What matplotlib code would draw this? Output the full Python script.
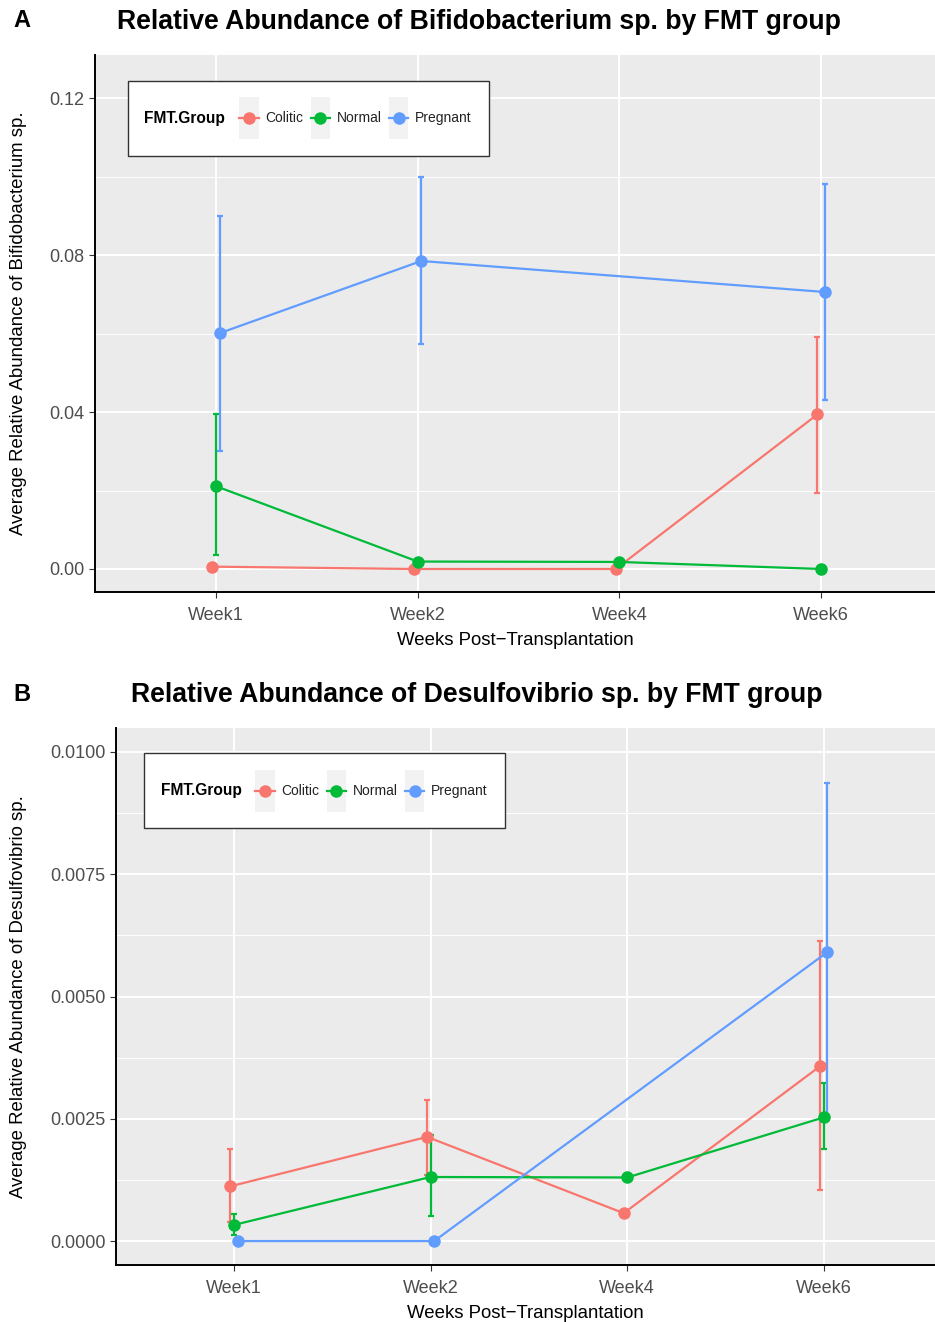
import numpy as np
import matplotlib
matplotlib.use("Agg")
import matplotlib.pyplot as plt
from matplotlib.lines import Line2D
from matplotlib.patches import Rectangle
from matplotlib.offsetbox import AnchoredOffsetbox, HPacker, TextArea, DrawingArea
from matplotlib.ticker import FormatStrFormatter, MultipleLocator

plt.rcParams['font.family'] = ['Liberation Sans', 'DejaVu Sans']

weeks = ['Week1', 'Week2', 'Week4', 'Week6']
groups = ['Colitic', 'Normal', 'Pregnant']
colors = ['#F8766D', '#00BA38', '#619CFF']

# panel A: Bifidobacterium sp. (nan = no sample that week)
bifido_mean = {
    'Colitic':  [0.0006, 0.0000, 0.0000, 0.0394],
    'Normal':   [0.0211, 0.0019, 0.0018, 0.0000],
    'Pregnant': [0.0601, 0.0785, np.nan, 0.0706],
}
bifido_lo = {
    'Colitic':  [np.nan, np.nan, np.nan, 0.0194],
    'Normal':   [0.0036, np.nan, np.nan, np.nan],
    'Pregnant': [0.0300, 0.0573, np.nan, 0.0431],
}
bifido_hi = {
    'Colitic':  [np.nan, np.nan, np.nan, 0.0592],
    'Normal':   [0.0395, np.nan, np.nan, np.nan],
    'Pregnant': [0.0899, 0.0999, np.nan, 0.0981],
}

# panel B: Desulfovibrio sp.
desulfo_mean = {
    'Colitic':  [0.00112, 0.00213, 0.00057, 0.00358],
    'Normal':   [0.00033, 0.00131, 0.00130, 0.00253],
    'Pregnant': [0.00000, 0.00000, np.nan, 0.00591],
}
desulfo_lo = {
    'Colitic':  [0.00039, 0.00135, np.nan, 0.00104],
    'Normal':   [0.00012, 0.00051, np.nan, 0.00188],
    'Pregnant': [np.nan, np.nan, np.nan, 0.00247],
}
desulfo_hi = {
    'Colitic':  [0.00188, 0.00288, np.nan, 0.00613],
    'Normal':   [0.00055, 0.00217, np.nan, 0.00323],
    'Pregnant': [np.nan, np.nan, np.nan, 0.00936],
}


def legend_box(ax, anchor):
    # ggplot-like horizontal legend: bold title then grey key + label per group
    items = [TextArea('FMT.Group', textprops=dict(fontweight='bold', fontsize=11.2)),
             DrawingArea(0, 1)]
    for g, c in zip(groups, colors):
        da = DrawingArea(14, 30)
        da.add_artist(Rectangle((0, 0), 14, 30, facecolor='#F2F2F2', edgecolor='none'))
        da.add_artist(Line2D([0, 14], [15, 15], color=c, lw=1.6))
        da.add_artist(Line2D([7], [15], marker='o', ms=8, color=c))
        items.append(da)
        items.append(TextArea(g, textprops=dict(fontsize=10, color='#222222')))
    box = HPacker(children=items, align='center', pad=0, sep=5)
    ab = AnchoredOffsetbox(loc='upper left', child=box, pad=1.2, borderpad=0,
                           bbox_to_anchor=anchor, bbox_transform=ax.transAxes,
                           frameon=True)
    ab.patch.set_edgecolor('#333333')
    ab.patch.set_linewidth(1.0)
    ab.patch.set_boxstyle('square', pad=0)
    ab.set_zorder(5)
    ax.add_artist(ab)


def panel(ax, mean, lo, hi, ylim, major, fmt, ylabel, ylab_x, anchor):
    ax.set_facecolor('#EBEBEB')
    x = np.arange(len(weeks))
    offsets = [-0.018, 0.0, 0.018]
    for g, c, off in zip(groups, colors, offsets):
        m = np.array(mean[g], dtype=float)
        l = np.array(lo[g], dtype=float)
        h = np.array(hi[g], dtype=float)
        ok = ~np.isnan(m)
        xs = x + off
        ax.plot(xs[ok], m[ok], color=c, lw=1.6, zorder=3)
        ax.plot(xs[ok], m[ok], 'o', color=c, ms=8, zorder=4)
        e = ~np.isnan(l)
        ax.errorbar(xs[e], m[e], yerr=[m[e] - l[e], h[e] - m[e]], fmt='none',
                    ecolor=c, elinewidth=1.6, capsize=2.2, capthick=1.6, zorder=3)
    ax.set_xticks(x)
    ax.set_xticklabels(weeks)
    ax.set_xlim(-0.6, 3.565)
    ax.set_ylim(*ylim)
    ax.yaxis.set_major_locator(MultipleLocator(major))
    ax.yaxis.set_minor_locator(MultipleLocator(major / 2))
    ax.yaxis.set_major_formatter(FormatStrFormatter(fmt))
    ax.grid(which='major', color='white', lw=1.4)
    ax.grid(which='minor', axis='y', color='white', lw=0.7)
    ax.set_axisbelow(True)
    for s in ['top', 'right']:
        ax.spines[s].set_visible(False)
    for s in ['left', 'bottom']:
        ax.spines[s].set_linewidth(1.4)
    ax.tick_params(which='major', colors='#333333', labelsize=13, length=4, width=0.8)
    ax.tick_params(which='minor', length=0)
    ax.tick_params(axis='both', labelcolor='#4D4D4D')
    ax.tick_params(axis='x', pad=6.5)
    ax.set_xlabel('Weeks Post\u2212Transplantation', fontsize=13.4, labelpad=6)
    ax.set_ylabel(ylabel, fontsize=13.4)
    ax.yaxis.set_label_coords(ylab_x, 0.5)
    legend_box(ax, anchor)


fig = plt.figure(figsize=(9.35, 13.22), dpi=100)
axA = fig.add_axes([0.1016, 0.5522, 0.8984, 0.4062])
axB = fig.add_axes([0.1241, 0.0431, 0.8759, 0.4062])

panel(axA, bifido_mean, bifido_lo, bifido_hi, (-0.00586, 0.131), 0.04, '%.2f',
      'Average Relative Abundance of Bifidobacterium sp.', -0.081, (0.039, 0.952))
panel(axB, desulfo_mean, desulfo_lo, desulfo_hi, (-0.00049, 0.01049), 0.0025, '%.4f',
      'Average Relative Abundance of Desulfovibrio sp.', -0.1087, (0.034, 0.953))

fig.text(0.512, 0.9833, 'Relative Abundance of Bifidobacterium sp. by FMT group',
         ha='center', va='center', fontsize=19.2, fontweight='bold')
fig.text(0.5096, 0.4745, 'Relative Abundance of Desulfovibrio sp. by FMT group',
         ha='center', va='center', fontsize=19.2, fontweight='bold')
fig.text(0.0235, 0.9845, 'A', ha='center', va='center', fontsize=17, fontweight='bold')
fig.text(0.0235, 0.4743, 'B', ha='center', va='center', fontsize=17, fontweight='bold')

fig.savefig('out.png', dpi=100)
